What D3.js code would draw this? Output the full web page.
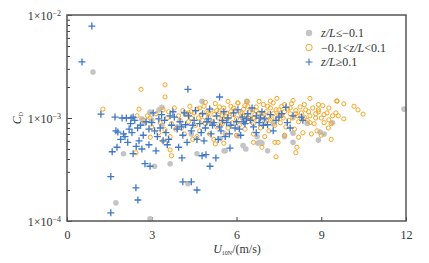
<!DOCTYPE html>
<html>
<head>
<meta charset="utf-8">
<script src="https://cdn.jsdelivr.net/npm/d3@7"></script>
<style>
  body { margin: 0; background: #fff; }
  svg { font-family: "Liberation Serif", "Times New Roman", serif; }
  .axis path { display: none; }
  .axis line { stroke: #444; }
  .axis text { fill: #333; font-size: 12px; font-family: "Liberation Serif", serif; }
</style>
</head>
<body>
<svg id="chart" width="429" height="263"></svg>
<script>
// legend labels
var seriesNames = ["z/L\u2264\u22120.1", "\u22120.1<z/L<0.1", "z/L\u22650.1"];
var xTicks = [0, 3, 6, 9, 12];
var yMajor = [1e-4, 1e-3, 1e-2];
var yExp = ["\u22124", "\u22123", "\u22122"];

// [U10N (m/s), Cd]  z/L <= -0.1 (grey dots)
var unstable = [
  [0.92,2.8e-3],[11.93,1.22e-3],[1.73,1.5e-4],[2.94,1.05e-4],[3.1,3.4e-4],[3.65,3.6e-4],
  [4.28,2.3e-4],[4.6,4.5e-4],[5.6,4.8e-4],[2.0,4.5e-4],[6.23,5.4e-4],[6.33,5.0e-4],
  [6.76,5.7e-4],[7.1,4.8e-4],[8.0,5.8e-4],[8.9,6.1e-4],[8.96,7.3e-4],[9.1,7.0e-4],
  [8.0,7.1e-4],[7.7,6.6e-4],[4.78,1.45e-3],[6.37,1.45e-3],[2.94,1.14e-3],[3.26,1.2e-3],
  [3.36,1.27e-3],[2.65,0.98e-3],[2.73,0.89e-3],[3.36,0.85e-3],[4.18,1.12e-3],[5.42,6.3e-4],
  [6.83,5.8e-4],[8.5,0.89e-3],[9.4,0.9e-3],[5.56,4.8e-4],[6.73,6.6e-4],[6.05,6.7e-4],
  [6.9,5.7e-4],[3.0,0.95e-3],[3.9,0.82e-3],[5.1,0.9e-3],[7.3,0.88e-3],[4.4,0.7e-3]
];

// -0.1 < z/L < 0.1 (orange rings)
var neutral = [
  [2.62,1.9e-3],[3.47,2.1e-3],[1.27,1.22e-3],[2.55,1.22e-3],[6.9,5.2e-4],[7.36,5.8e-4],
  [7.47,5.8e-4],[7.4,4.2e-4],[8.14,5.2e-4],[8.1,4.6e-4],[6.6,5.8e-4],[9.56,1.46e-3],
  [9.8,1.37e-3],[10.16,1.3e-3],[10.3,1.2e-3],[10.48,1.09e-3],[9.52,1.12e-3],[9.27,1.25e-3],
  [9.8,0.98e-3],[9.27,0.96e-3],[9.35,0.88e-3],[9.35,6.2e-4],[7.43,1.55e-3],[7.2,1.46e-3],
  [8.6,1.55e-3],[8.9,1.35e-3],[2.44,4.6e-4],[3.4,6.0e-4],[3.65,4.9e-4],[3.7,4.3e-4],
  [5.25,5.6e-4],[5.55,5.7e-4],[2.94,1.0e-3],[3.47,0.77e-3],[3.47,1.6e-3],[2.48,1.05e-3],
  [6.05,1.4e-3],[6.37,1.45e-3],[9.55,1.46e-3],
  [2.7,0.95e-3],[2.85,1.05e-3],[3.0,0.82e-3],[3.15,1.1e-3],[3.3,0.9e-3],[3.4,1.2e-3],
  [2.95,0.65e-3],[3.25,0.72e-3],
  [3.55,1.0e-3],[3.6,1.15e-3],[3.7,0.88e-3],[3.8,1.25e-3],[3.85,0.78e-3],[3.95,1.05e-3],
  [4.0,0.95e-3],[4.1,1.18e-3],[4.15,0.7e-3],[4.2,1.08e-3],[4.3,0.92e-3],[4.35,1.3e-3],
  [4.4,1.0e-3],[4.45,0.62e-3],[3.65,0.66e-3],[4.05,0.8e-3],
  [4.5,1.12e-3],[4.55,0.85e-3],[4.6,1.22e-3],[4.65,1.0e-3],[4.7,0.75e-3],[4.75,1.08e-3],
  [4.8,0.95e-3],[4.85,1.3e-3],[4.9,0.88e-3],[4.95,1.15e-3],[5.0,1.02e-3],[5.05,0.7e-3],
  [5.1,1.2e-3],[5.15,0.92e-3],[5.2,1.08e-3],[5.25,1.38e-3],[5.3,0.82e-3],[5.35,1.0e-3],
  [5.4,1.15e-3],[5.45,0.9e-3],[4.6,0.66e-3],[5.2,0.62e-3],[4.9,1.42e-3],
  [5.5,1.05e-3],[5.55,1.25e-3],[5.6,0.95e-3],[5.65,1.12e-3],[5.7,0.8e-3],[5.75,1.02e-3],
  [5.8,1.3e-3],[5.85,0.9e-3],[5.9,1.08e-3],[5.95,1.18e-3],[6.0,0.98e-3],[6.05,1.4e-3],
  [6.1,0.85e-3],[6.15,1.1e-3],[6.2,1.0e-3],[6.25,1.22e-3],[6.3,0.78e-3],[6.35,1.05e-3],
  [6.4,0.92e-3],[6.45,1.15e-3],[5.6,0.7e-3],[6.0,0.68e-3],[6.3,1.32e-3],[5.7,1.45e-3],
  [6.5,1.0e-3],[6.55,1.2e-3],[6.6,0.88e-3],[6.65,1.08e-3],[6.7,1.28e-3],[6.75,0.95e-3],
  [6.8,1.12e-3],[6.85,0.8e-3],[6.9,1.02e-3],[6.95,1.35e-3],[7.0,0.92e-3],[7.05,1.15e-3],
  [7.1,1.05e-3],[7.15,0.75e-3],[7.2,1.25e-3],[7.25,0.98e-3],[7.3,1.1e-3],[7.35,0.85e-3],
  [7.4,1.2e-3],[7.45,1.0e-3],[6.6,0.7e-3],[7.0,0.66e-3],[7.3,1.4e-3],[6.8,1.45e-3],
  [7.5,1.08e-3],[7.55,0.9e-3],[7.6,1.3e-3],[7.65,1.0e-3],[7.7,1.15e-3],[7.75,0.82e-3],
  [7.8,1.22e-3],[7.85,0.95e-3],[7.9,1.1e-3],[7.95,1.38e-3],[8.0,1.0e-3],[8.05,0.78e-3],
  [8.1,1.18e-3],[8.15,1.05e-3],[8.2,0.92e-3],[8.25,1.28e-3],[8.3,1.12e-3],[8.35,0.72e-3],
  [8.4,1.02e-3],[8.45,1.2e-3],[7.7,0.68e-3],[8.2,0.65e-3],[8.0,1.48e-3],
  [8.5,0.95e-3],[8.55,1.15e-3],[8.6,1.05e-3],[8.7,1.25e-3],[8.75,0.88e-3],[8.8,1.1e-3],
  [8.85,0.75e-3],[8.9,1.2e-3],[9.0,1.0e-3],[9.05,1.32e-3],[9.1,0.9e-3],[9.2,1.12e-3],
  [9.25,0.8e-3],[9.4,1.05e-3],[8.65,0.7e-3],[9.0,0.68e-3],
  [5.0,1.12e-3],[5.6,1.05e-3],[6.2,1.12e-3],[6.9,1.1e-3],[7.6,1.05e-3],[8.3,0.98e-3],
  [4.3,1.12e-3],[5.4,1.28e-3],[6.6,1.0e-3],[7.9,1.25e-3],[8.8,1.0e-3],[9.6,1.05e-3],
  [4.7,1.25e-3],[5.3,1.18e-3],[5.9,1.25e-3],[6.4,1.3e-3],[7.1,1.3e-3],[7.7,1.35e-3],
  [8.4,1.35e-3],[8.9,1.15e-3],[4.4,1.15e-3],[5.8,1.15e-3],[6.7,1.18e-3],[7.5,1.2e-3],
  [8.1,1.1e-3],[9.1,1.08e-3],[5.5,0.88e-3],[6.3,0.95e-3],[7.2,0.95e-3],[8.6,0.9e-3]
];

// z/L >= 0.1 (blue crosses)
var stable = [
  [0.88,7.8e-3],[0.53,3.5e-3],[1.2,1.09e-3],[1.6,4.7e-4],[1.55,2.7e-4],[1.55,1.2e-4],
  [1.77,5.2e-4],[1.73,7.5e-4],[1.8,7.3e-4],[2.44,2.1e-4],[2.51,1.6e-4],[2.76,3.6e-4],
  [2.94,3.4e-4],[4.07,4.1e-4],[4.1,2.4e-4],[4.4,2.4e-4],[4.6,2.0e-4],[5.06,3.4e-4],
  [4.78,4.3e-4],[4.92,4.4e-4],[5.27,4.1e-4],[5.77,5.1e-4],[2.9,5.5e-4],[2.34,4.5e-4],
  [4.28,1.9e-3],[5.4,1.6e-3],[7.75,1.27e-3],
  [1.95,1.0e-3],[2.1,1.0e-3],[2.27,1.0e-3],[2.34,1.02e-3],[2.4,0.95e-3],[2.2,0.78e-3],
  [2.0,0.7e-3],[1.9,0.62e-3],[2.05,0.66e-3],[2.3,0.72e-3],[2.5,0.8e-3],[2.6,0.85e-3],
  [2.15,0.58e-3],[2.55,0.6e-3],[2.7,0.68e-3],[2.9,0.78e-3],[3.0,0.9e-3],[3.1,0.75e-3],
  [3.2,0.66e-3],[3.3,0.8e-3],[3.45,0.95e-3],[3.5,0.72e-3],[3.6,0.62e-3],[3.7,0.85e-3],
  [3.8,1.02e-3],[3.9,0.78e-3],[4.0,0.92e-3],[4.1,0.68e-3],[4.2,0.86e-3],[4.3,1.05e-3],
  [4.4,0.75e-3],[4.5,0.95e-3],[4.6,0.62e-3],[4.7,0.88e-3],[4.8,1.1e-3],[4.9,0.8e-3],
  [5.0,0.98e-3],[5.1,0.7e-3],[5.2,0.9e-3],[5.3,1.05e-3],[5.4,0.82e-3],[5.5,0.95e-3],
  [5.6,0.66e-3],[5.7,1.0e-3],[5.8,0.85e-3],[5.9,1.12e-3],[6.0,0.92e-3],[6.1,0.78e-3],
  [6.2,1.02e-3],[6.3,0.88e-3],[6.4,1.1e-3],[6.5,0.95e-3],[6.6,0.82e-3],[6.7,1.05e-3],
  [6.8,0.9e-3],[6.9,1.15e-3],[7.0,0.98e-3],[7.1,0.86e-3],[7.2,1.08e-3],[7.4,0.95e-3],
  [7.6,1.1e-3],[7.8,0.9e-3],[8.0,1.05e-3],[8.3,1.02e-3],[3.05,1.12e-3],[3.35,1.08e-3],
  [3.75,1.15e-3],[4.15,1.12e-3],[4.55,1.18e-3],[5.05,1.22e-3],[5.55,1.15e-3],[6.05,1.2e-3],
  [6.55,1.25e-3],[2.45,0.53e-3],[2.65,0.5e-3],[3.15,0.48e-3],[3.55,0.55e-3],[3.95,0.52e-3],
  [4.25,0.58e-3],[3.4,0.6e-3],[4.85,0.6e-3],[5.35,0.62e-3],[5.75,0.7e-3],[6.15,0.68e-3],
  [6.7,0.72e-3],[7.3,0.75e-3],[7.9,0.8e-3],[2.25,0.88e-3],[2.8,0.92e-3],[3.25,0.98e-3],
  [3.65,1.05e-3],[4.05,0.82e-3],[4.45,0.85e-3],[4.95,0.92e-3],[5.45,0.75e-3],[5.95,0.8e-3],
  [6.35,0.98e-3],[6.85,1.0e-3],[7.5,1.02e-3],[1.7,1.02e-3],[4.75,0.72e-3],[5.15,0.85e-3],
  [5.65,0.9e-3],[6.25,0.92e-3],[6.95,0.85e-3],[8.35,0.95e-3]
];

var margin = {left: 67, right: 23, top: 15, bottom: 42},
    width = 429, height = 263;

var svg = d3.select("#chart");

var x = d3.scaleLinear()
  .domain([0, 12])
  .range([margin.left, width - margin.right]);

var y = d3.scaleLog()
  .domain([1e-4, 1e-2])
  .range([height - margin.bottom, margin.top]);

// minor ticks 2..9 in each decade
var yMinor = [];
[1e-4, 1e-3].forEach(function(d) {
  for (var k = 2; k <= 9; k++) yMinor.push(d * k);
});

// axes (ticks point inward)
svg.append("g")
  .attr("class", "axis")
  .attr("transform", "translate(0," + y.range()[0] + ")")
  .call(d3.axisBottom(x).tickValues(xTicks).tickSize(-4).tickPadding(9).tickFormat(d3.format("d")));

svg.append("g")
  .attr("class", "axis")
  .attr("transform", "translate(" + x.range()[0] + ",0)")
  .call(d3.axisLeft(y).tickValues(yMinor).tickSize(-3).tickFormat(""));

var yg = svg.append("g")
  .attr("class", "axis")
  .attr("transform", "translate(" + x.range()[0] + ",0)")
  .call(d3.axisLeft(y).tickValues(yMajor).tickSize(-5).tickPadding(6).tickFormat(""));

yg.selectAll(".tick").each(function(d, i) {
  var t = d3.select(this).select("text")
    .attr("dy", "0.4em");
  t.append("tspan").text("1\u00d710");
  t.append("tspan").attr("dy", "-0.55em").style("font-size", "8px").text(yExp[i]);
});

// points: grey first, then orange, then blue
svg.append("g").selectAll("circle")
  .data(unstable)
  .enter().append("circle")
  .attr("cx", function(d) { return x(d[0]); })
  .attr("cy", function(d) { return y(d[1]); })
  .attr("r", 2.8)
  .style("fill", "#c4c4c4");

svg.append("g").selectAll("circle")
  .data(neutral)
  .enter().append("circle")
  .attr("cx", function(d) { return x(d[0]); })
  .attr("cy", function(d) { return y(d[1]); })
  .attr("r", 2.1)
  .style("fill", "none")
  .style("stroke", "#f5a623")
  .style("stroke-width", 1);

svg.append("g").selectAll("path")
  .data(stable)
  .enter().append("path")
  .attr("d", "M-3.5,0H3.5M0,-3.5V3.5")
  .attr("transform", function(d) { return "translate(" + x(d[0]) + "," + y(d[1]) + ")"; })
  .style("stroke", "#3f77c9")
  .style("stroke-width", 1.3)
  .style("fill", "none");

// frame
svg.append("rect")
  .attr("x", x.range()[0])
  .attr("y", y.range()[1])
  .attr("width", x.range()[1] - x.range()[0])
  .attr("height", y.range()[0] - y.range()[1])
  .style("fill", "none")
  .style("stroke", "#555")
  .style("stroke-width", 1.5);

// legend
var legend = svg.append("g").attr("transform", "translate(309,33)");
var rows = legend.selectAll("g")
  .data(seriesNames)
  .enter().append("g")
  .attr("transform", function(d, i) { return "translate(0," + i * 14.5 + ")"; });

rows.each(function(d, i) {
  var g = d3.select(this);
  if (i == 0) g.append("circle").attr("r", 3.2).style("fill", "#c4c4c4");
  if (i == 1) g.append("circle").attr("r", 3.2).style("fill", "none").style("stroke", "#f5a623").style("stroke-width", 1);
  if (i == 2) g.append("path").attr("d", "M-3.5,0H3.5M0,-3.5V3.5").style("stroke", "#3f77c9").style("stroke-width", 1.1);
});

function legendText(t, i) {
  if (i == 0) {
    t.append("tspan").style("font-style", "italic").text("z/L");
    t.append("tspan").text("\u2264\u22120.1");
  } else if (i == 1) {
    t.append("tspan").text("\u22120.1<");
    t.append("tspan").style("font-style", "italic").text("z/L");
    t.append("tspan").text("<0.1");
  } else {
    t.append("tspan").style("font-style", "italic").text("z/L");
    t.append("tspan").text("\u22650.1");
  }
}

rows.append("text")
  .attr("x", 12)
  .attr("dy", "0.35em")
  .style("font-size", "12px")
  .style("fill", "#333")
  .each(function(d, i) { legendText(d3.select(this), i); });

// axis titles
var xl = svg.append("text")
  .attr("x", 237)
  .attr("y", 253)
  .attr("text-anchor", "middle")
  .style("font-size", "12px")
  .style("fill", "#333");
xl.append("tspan").style("font-style", "italic").text("U");
xl.append("tspan").attr("dy", "2").style("font-size", "6px").text("10N");
xl.append("tspan").attr("dy", "-2").text("/(m/s)");

var yl = svg.append("text")
  .attr("transform", "translate(21," + y(1e-3) + ") rotate(-90)")
  .attr("text-anchor", "middle")
  .style("font-size", "12px")
  .style("fill", "#333");
yl.append("tspan").style("font-style", "italic").text("C");
yl.append("tspan").attr("dy", "2").style("font-size", "6px").text("D");
</script>
</body>
</html>
